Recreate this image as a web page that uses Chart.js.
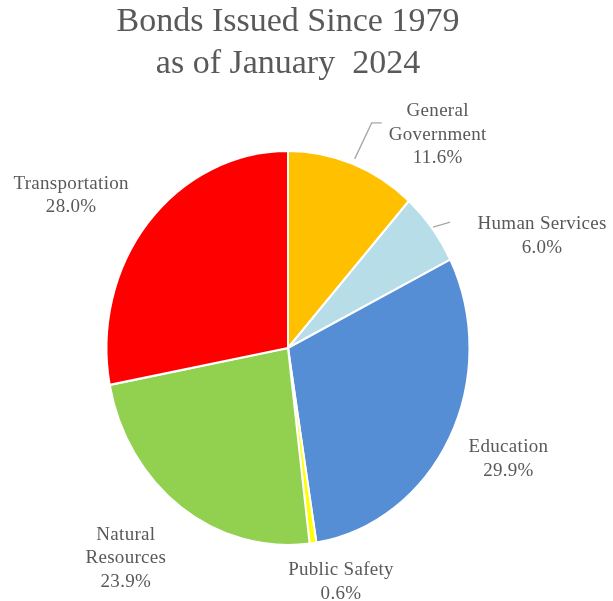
<!DOCTYPE html>
<html>
<head>
<meta charset="utf-8">
<script src="https://cdn.jsdelivr.net/npm/chart.js@4.4.1/dist/chart.umd.min.js"></script>
<style>
  html, body { margin: 0; padding: 0; background: #ffffff; }
  #wrap { width: 613px; height: 601px; }
</style>
</head>
<body>
<div id="wrap"><canvas id="grafico" width="613" height="601"></canvas></div>
<script>
// Datos del gráfico
const categorias = [['General', 'Government'], ['Human Services'], ['Education'], ['Public Safety'], ['Natural', 'Resources'], ['Transportation']];
const porcentajes = [11.6, 6.0, 29.9, 0.6, 23.9, 28.0];
const colores = ['#FFC000', '#B7DEE8', '#558ED5', '#FFFF00', '#92D050', '#FF0000'];
const tituloLineas = ['Bonds Issued Since 1979', 'as of January  2024'];

// Desplazamiento de cada etiqueta respecto al borde de su porción (px)
const desplazEtiquetas = [[85, -29], [110, 8], [59, 21], [28, 39], [-55, 51], [-77, -27]];
// Líneas guía (relativas al borde de la porción)
const lineasGuia = [[[2, -5], [19, -41], [29, -41]], [[1, -1], [18, -6]], null, null, null, null];

const ESCALA_Y = 196 / 180.5; // el pastel original está estirado verticalmente
const FUENTE = 'Liberation Serif, "Times New Roman", serif';
const GRIS = '#595959';

// Estira el pastel en vertical alrededor de su centro
const estirarPastel = {
    id: 'estirarPastel',
    beforeDatasetsDraw(chart) {
        const arc = chart.getDatasetMeta(0).data[0];
        const ctx = chart.ctx;
        ctx.save();
        ctx.translate(arc.x, arc.y);
        ctx.scale(1, ESCALA_Y);
        ctx.translate(-arc.x, -arc.y);
    },
    afterDatasetsDraw(chart) {
        chart.ctx.restore();
    }
};

// Etiquetas con nombre y porcentaje
const etiquetasPastel = {
    id: 'etiquetasPastel',
    afterDraw(chart) {
        const ctx = chart.ctx;
        const arcs = chart.getDatasetMeta(0).data;
        ctx.save();
        ctx.font = '19px ' + FUENTE;
        ctx.letterSpacing = '0.3px';
        ctx.fillStyle = GRIS;
        ctx.textAlign = 'center';
        ctx.textBaseline = 'middle';
        arcs.forEach((arc, i) => {
            const mid = (arc.startAngle + arc.endAngle) / 2;
            const bx = arc.x + Math.cos(mid) * arc.outerRadius;
            const by = arc.y + Math.sin(mid) * arc.outerRadius * ESCALA_Y;

            if (lineasGuia[i]) {
                ctx.strokeStyle = '#A6A6A6';
                ctx.lineWidth = 1.3;
                ctx.beginPath();
                lineasGuia[i].forEach((p, k) => {
                    if (k === 0) ctx.moveTo(bx + p[0], by + p[1]);
                    else ctx.lineTo(bx + p[0], by + p[1]);
                });
                ctx.stroke();
            }

            const lineas = categorias[i].concat([porcentajes[i].toFixed(1) + '%']);
            const cx = bx + desplazEtiquetas[i][0];
            const cy = by + desplazEtiquetas[i][1];
            const alto = 23.5;
            const y0 = cy - (lineas.length - 1) * alto / 2;
            lineas.forEach((t, k) => ctx.fillText(t, cx, y0 + k * alto));
        });
        ctx.restore();
    }
};

new Chart(document.getElementById('grafico').getContext('2d'), {
    type: 'pie',
    data: {
        labels: categorias.map(c => c.join(' ')),
        datasets: [{
            data: porcentajes,
            backgroundColor: colores,
            borderColor: '#ffffff',
            borderWidth: 2,
            radius: 181.5
        }]
    },
    options: {
        responsive: false,
        animation: false,
        layout: { padding: { left: 0, right: 37, top: 0, bottom: 0 } },
        plugins: {
            legend: { display: false },
            tooltip: { enabled: false },
            title: {
                display: true,
                text: tituloLineas,
                color: GRIS,
                font: { family: FUENTE, size: 34, weight: 'normal', lineHeight: 42 / 34 },
                padding: { top: 1, bottom: 10 }
            }
        }
    },
    plugins: [estirarPastel, etiquetasPastel]
});
</script>
</body>
</html>
